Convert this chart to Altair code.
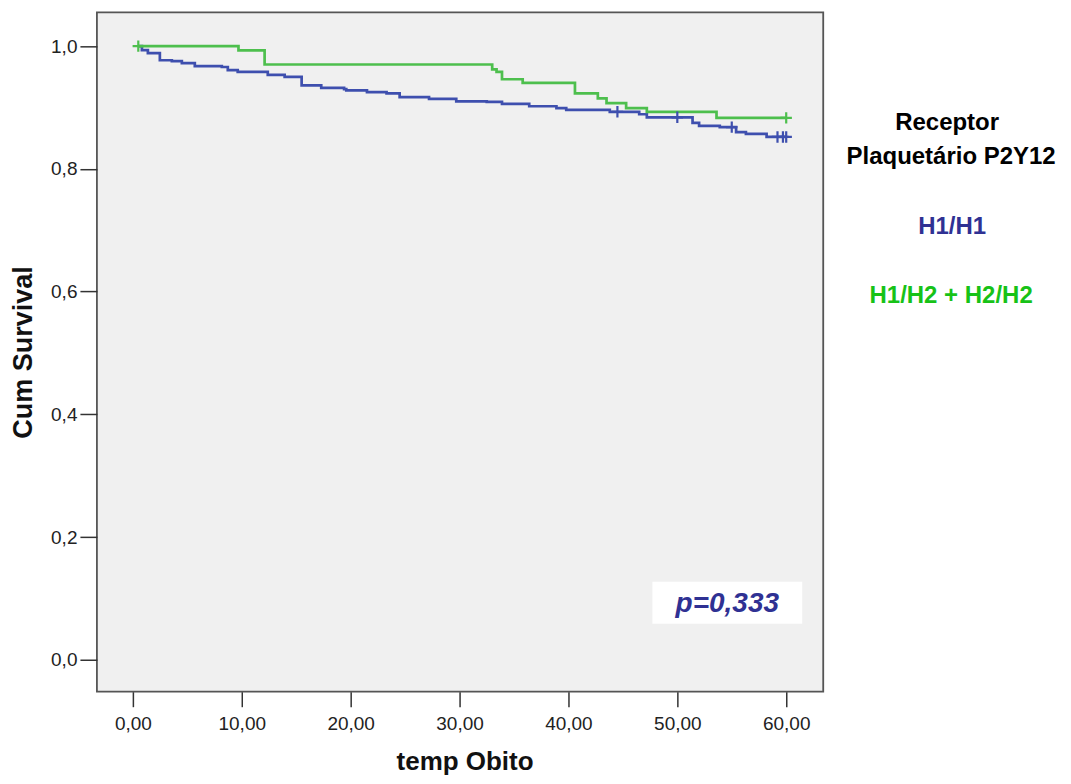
import altair as alt
import pandas as pd

# Kaplan-Meier curves
blue_t = [0.5, 0.83, 1.38, 2.48, 3.58, 4.5, 5.69, 8.17, 8.72, 9.63, 12.39, 13.94, 15.5, 17.3, 19.4,
          19.6, 21.5, 23.3, 24.5, 27.2, 29.7, 32.5, 33.9, 36.4, 38.9, 39.8, 43.8, 46.5, 47.2, 51.4,
          52.0, 53.9, 55.4, 56.3, 58.2, 60.0]
blue_s = [1.0, 0.9935, 0.9886, 0.977, 0.9756, 0.9723, 0.9674, 0.966, 0.961, 0.958, 0.953, 0.950, 0.936,
          0.932, 0.930, 0.928, 0.925, 0.923, 0.917, 0.914, 0.910, 0.909, 0.906, 0.902, 0.899, 0.896,
          0.893, 0.889, 0.884, 0.875, 0.870, 0.868, 0.860, 0.857, 0.852, 0.852]
green_t = [0.5, 9.7, 12.1, 33.0, 33.4, 33.9, 35.8, 40.6, 42.7, 43.5, 45.3, 47.2, 53.6, 60.0]
green_s = [1.0, 0.993, 0.970, 0.962, 0.958, 0.946, 0.940, 0.923, 0.915, 0.907, 0.899, 0.893, 0.883, 0.883]

blue_cens_t = [44.5, 50.0, 55.0, 59.2, 59.7, 60.0]
blue_cens_s = [0.893, 0.884, 0.868, 0.852, 0.852, 0.852]
green_cens_t = [0.5, 60.0]
green_cens_s = [1.0, 0.883]

groups = ["H1/H1", "H1/H2 + H2/H2"]
line_colors = ["#3e4fae", "#4dbf4d"]
text_colors = ["#2f3193", "#17c217"]

curves = pd.DataFrame(
    [{"t": t, "s": s, "g": groups[0]} for t, s in zip(blue_t, blue_s)]
    + [{"t": t, "s": s, "g": groups[1]} for t, s in zip(green_t, green_s)]
)
cens = pd.DataFrame(
    [{"t": t, "s": s, "g": groups[0]} for t, s in zip(blue_cens_t, blue_cens_s)]
    + [{"t": t, "s": s, "g": groups[1]} for t, s in zip(green_cens_t, green_cens_s)]
)

FONT = "Liberation Sans Narrow, Arial Narrow, Liberation Sans, sans-serif"

xscale = alt.Scale(domain=[-3.3, 63.4], nice=False, zero=False)
yscale = alt.Scale(domain=[-0.052, 1.055], nice=False, zero=False)
color = alt.Color("g:N", scale=alt.Scale(domain=groups, range=line_colors), legend=None)

xaxis = alt.Axis(
    values=[0, 10, 20, 30, 40, 50, 60],
    labelExpr="replace(format(datum.value, '.2f'), '.', ',')",
    title="temp Obito", titleX=368, titleY=78, titleAlign="center", titleBaseline="alphabetic",
    titleFontSize=26, titleFontWeight="bold", titleFont=FONT, titleColor="#111",
    labelFont=FONT, labelFontSize=19, labelColor="#222", labelPadding=8,
    tickSize=15, tickColor="#333", tickWidth=1.5, domain=False, grid=False,
)
yaxis = alt.Axis(
    values=[0, 0.2, 0.4, 0.6, 0.8, 1.0],
    labelExpr="replace(format(datum.value, '.1f'), '.', ',')",
    title="Cum Survival", titleX=-73, titleY=340, titleAlign="center", titleBaseline="middle",
    titleAngle=270, titleFontSize=27, titleFontWeight="bold", titleFont=FONT, titleColor="#111",
    labelFont=FONT, labelFontSize=19, labelColor="#222", labelPadding=3,
    tickSize=17, tickColor="#333", tickWidth=1.5, domain=False, grid=False,
)

lines = alt.Chart(curves).mark_line(interpolate="step-after", strokeWidth=2.7).encode(
    x=alt.X("t:Q", scale=xscale, axis=xaxis),
    y=alt.Y("s:Q", scale=yscale, axis=yaxis),
    color=color,
    detail="g:N",
)

marks = alt.Chart(cens).mark_point(
    shape="M-1,0H1M0,-1V1", filled=False, strokeWidth=2.2, size=130, opacity=1
).encode(x=alt.X("t:Q", scale=xscale), y=alt.Y("s:Q", scale=yscale), color=color)

pbox = alt.Chart(pd.DataFrame({"a": [0]})).mark_rect(color="white").encode(
    x=alt.value(556), x2=alt.value(706), y=alt.value(570), y2=alt.value(612)
)
ptext = alt.Chart(pd.DataFrame({"a": [0]})).mark_text(
    text="p=0,333", font=FONT, fontSize=28, fontWeight="bold", fontStyle="italic",
    color="#2f3193", align="center", baseline="middle"
).encode(x=alt.value(631), y=alt.value(592))

def label(txt, x, y, col):
    return alt.Chart(pd.DataFrame({"a": [0]})).mark_text(
        text=txt, font=FONT, fontSize=24, fontWeight="bold", color=col,
        align="center", baseline="middle"
    ).encode(x=alt.value(x), y=alt.value(y))

legend = (
    label("Receptor", 851, 111, "#000")
    + label("Plaquetário P2Y12", 855, 145, "#000")
    + label(groups[0], 856, 215, text_colors[0])
    + label(groups[1], 855, 284, text_colors[1])
)

chart = (
    alt.layer(lines, marks, pbox, ptext, legend)
    .properties(
        width=727, height=680,
        autosize=alt.AutoSizeParams(type="none"),
        padding={"left": 89, "top": 4, "right": 240, "bottom": 85},
        background="white",
    )
    .configure_view(fill="#f0f0f0", stroke="#555555", strokeWidth=1.8)
)

chart.save("out.html", embed_options={"renderer": "svg", "actions": False})
